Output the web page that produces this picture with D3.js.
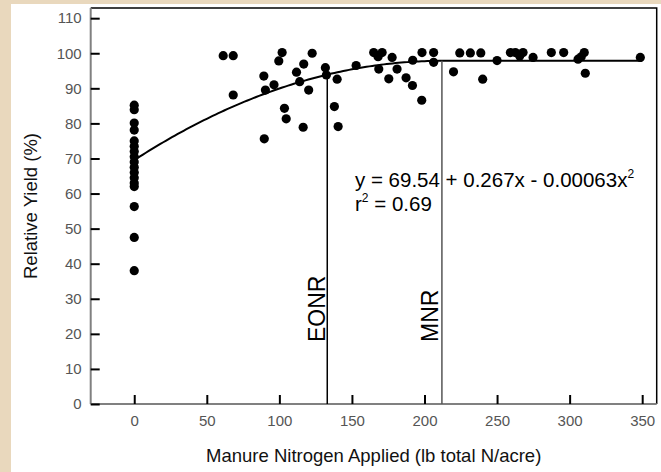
<!DOCTYPE html>
<html><head><meta charset="utf-8">
<script src="https://cdn.jsdelivr.net/npm/d3@7"></script>
<style>
html,body{margin:0;padding:0;background:#e9d8bd;}
svg{display:block;font-family:"Liberation Sans",Arial,sans-serif;}
</style></head>
<body><svg id="chart" width="661" height="472"></svg>
<script>
// Data
const xTicks = [0, 50, 100, 150, 200, 250, 300, 350];
const yTicks = [0, 10, 20, 30, 40, 50, 60, 70, 80, 90, 100, 110];
const zeroRateYields = [85.2, 83.9, 80.1, 78.1, 75, 73.5, 72, 70.5, 69, 67.5, 66, 64.5, 63, 62, 56.3, 47.5, 38];
const appliedN = [61.3, 68.2, 68.2, 89.3, 90.4, 89.6, 96.3, 99.6, 101.9, 103.5, 104.7, 111.8, 114, 116.8, 116.4, 120.2, 122.6, 131.7, 132.4, 137.9, 139.8, 140.5, 152.9, 165, 170.8, 168, 168.5, 177.7, 175.4, 181.1, 187.3, 191.9, 191.7, 198.3, 198.1, 206.3, 206.3, 220, 224.3, 231.6, 238.8, 240.1, 250, 259.2, 262.6, 265.6, 267.9, 274.8, 287.4, 295.9, 305.8, 308, 310.1, 310.8, 348.7];
const appliedYield = [99.3, 99.3, 88.1, 93.5, 89.5, 75.6, 91, 97.8, 100.2, 84.3, 81.3, 94.6, 91.9, 96.9, 78.9, 89.5, 100, 95.9, 93.8, 84.8, 92.6, 79.1, 96.5, 100.2, 100.2, 99, 95.5, 98.8, 92.7, 95.5, 93, 98, 90.8, 100.2, 86.6, 100.2, 97.4, 94.7, 100.1, 100.1, 100.1, 92.6, 97.9, 100.2, 100.2, 99.2, 100.2, 98.8, 100.2, 100.2, 98.3, 99, 100.2, 94.3, 98.8];
const coef = [69.54, 0.267, -0.00063];
const eonr = 133;
const mnr = 212;
const curveMaxX = 350;

const points = zeroRateYields.map(y => [0, y]).concat(appliedN.map((x, i) => [x, appliedYield[i]]));

const svg = d3.select("#chart");
// white panel
svg.append("rect").attr("x", 11).attr("y", 4).attr("width", 661 - 11).attr("height", 472 - 4).attr("fill", "#fff");

const L = 90.7, R = 656.7, T = 8, B = 404;
const x = d3.scaleLinear().domain([-30, 360]).range([L, R]);
const y = d3.scaleLinear().domain([0, 112.9]).range([B, T]);

// frame top/right
svg.append("path").attr("d", `M${L},${T}H${R}V${B}`).attr("fill", "none").attr("stroke", "#000").attr("stroke-width", 1.5);

// axes
const xAxis = svg.append("g").attr("transform", `translate(0,${B})`)
  .call(d3.axisBottom(x).tickValues(xTicks).tickSize(-9).tickPadding(13).tickFormat(d3.format("d")));
const yAxis = svg.append("g").attr("transform", `translate(${L},0)`)
  .call(d3.axisLeft(y).tickValues(yTicks).tickSize(-9).tickPadding(9).tickFormat(d3.format("d")));
[xAxis, yAxis].forEach(g => {
  g.select(".domain").attr("stroke", "#808080").attr("stroke-width", 2);
  g.selectAll(".tick line").attr("stroke", "#000").attr("stroke-width", 2);
  g.selectAll(".tick text").attr("fill", "#555").attr("font-size", 15).attr("font-family", "Liberation Sans, Arial, sans-serif");
});
xAxis.selectAll(".tick text").attr("dy", "0.71em").attr("y", 11);
// x-axis domain full width
xAxis.select(".domain").attr("d", `M${L},0H${R}`);
yAxis.select(".domain").attr("d", `M0,${B}V${T}`);

// model curve
const f = v => coef[0] + coef[1] * v + coef[2] * v * v;
const curveX = d3.range(0, mnr + 0.01, 2).concat([mnr, curveMaxX]);
const curvePts = curveX.map(v => [v, v <= mnr ? f(v) : f(mnr)]);
svg.append("path").datum(curvePts)
  .attr("d", d3.line().x(d => x(d[0])).y(d => y(d[1])))
  .attr("fill", "none").attr("stroke", "#000").attr("stroke-width", 2);

// vertical lines
svg.append("line").attr("x1", x(eonr)).attr("x2", x(eonr)).attr("y1", y(0)).attr("y2", y(f(eonr)))
  .attr("stroke", "#000").attr("stroke-width", 1.5);
svg.append("line").attr("x1", x(mnr)).attr("x2", x(mnr)).attr("y1", y(0)).attr("y2", y(f(mnr)))
  .attr("stroke", "#555").attr("stroke-width", 1.5);

// points
svg.append("g").selectAll("circle").data(points).join("circle")
  .attr("cx", d => x(d[0])).attr("cy", d => y(d[1])).attr("r", 4.6).attr("fill", "#000");

// vertical labels
svg.append("text").attr("transform", `translate(${x(eonr) - 2},342) rotate(-90)`)
  .attr("font-size", 23).attr("fill", "#000").text("EONR");
svg.append("text").attr("transform", `translate(${x(mnr) - 4},342) rotate(-90)`)
  .attr("font-size", 23).attr("fill", "#000").text("MNR");

// equation
const eq = svg.append("text").attr("x", 355).attr("y", 187).attr("font-size", 20.5).attr("fill", "#000");
eq.append("tspan").text("y = 69.54 + 0.267x - 0.00063x");
eq.append("tspan").attr("font-size", 12).attr("dy", -9).text("2");
const r2 = svg.append("text").attr("x", 355).attr("y", 211).attr("font-size", 20.5).attr("fill", "#000");
r2.append("tspan").text("r");
r2.append("tspan").attr("font-size", 12).attr("dy", -9).text("2");
r2.append("tspan").attr("dy", 9).text(" = 0.69");

// axis titles
svg.append("text").attr("x", (L + R) / 2).attr("y", 462).attr("text-anchor", "middle")
  .attr("font-size", 18.5).attr("fill", "#111").text("Manure Nitrogen Applied (lb total N/acre)");
svg.append("text").attr("transform", `translate(37,${(T + B) / 2}) rotate(-90)`).attr("text-anchor", "middle")
  .attr("font-size", 18.5).attr("fill", "#111").text("Relative Yield (%)");
</script></body></html>
